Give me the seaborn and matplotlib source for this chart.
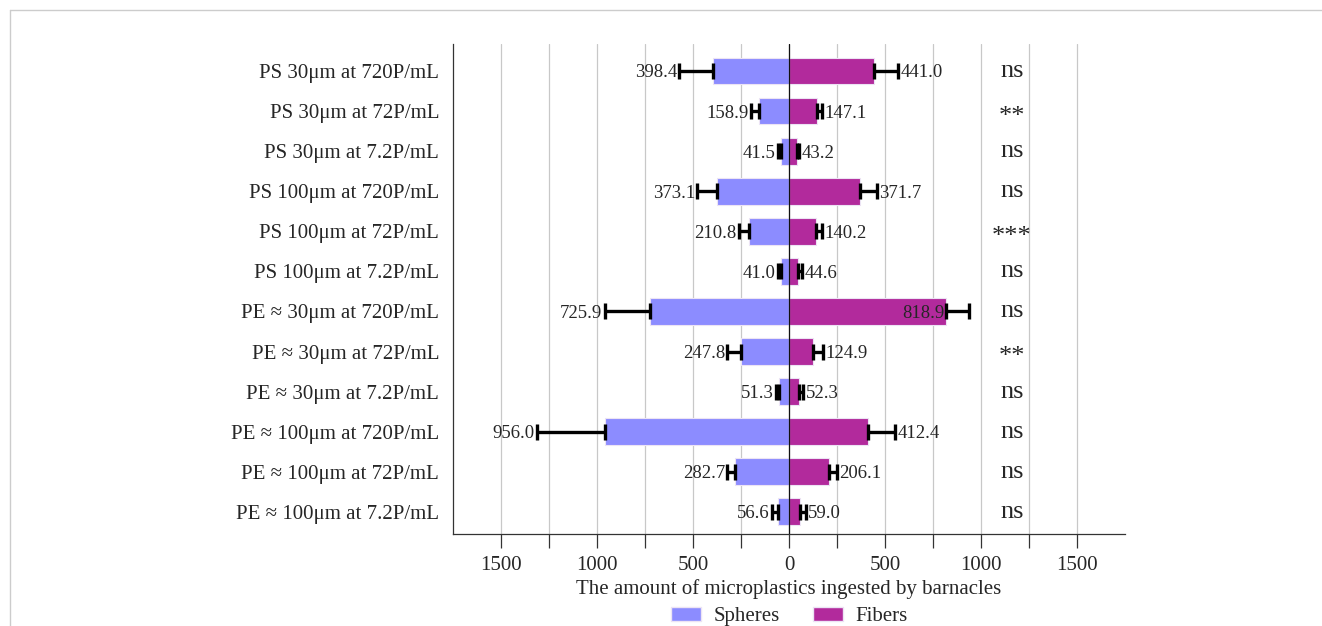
import numpy as np
import pandas as pd
import matplotlib
matplotlib.use("Agg")
import matplotlib.pyplot as plt
import seaborn as sns
from matplotlib.ticker import MultipleLocator, FixedLocator, FuncFormatter
from matplotlib.lines import Line2D
from matplotlib.patches import Patch

# data
categories = ["PS 30μm at 720P/mL", "PS 30μm at 72P/mL", "PS 30μm at 7.2P/mL",
              "PS 100μm at 720P/mL", "PS 100μm at 72P/mL", "PS 100μm at 7.2P/mL",
              "PE ≈ 30μm at 720P/mL", "PE ≈ 30μm at 72P/mL", "PE ≈ 30μm at 7.2P/mL",
              "PE ≈ 100μm at 720P/mL", "PE ≈ 100μm at 72P/mL", "PE ≈ 100μm at 7.2P/mL"]
spheres = [398.4, 158.9, 41.5, 373.1, 210.8, 41.0, 725.9, 247.8, 51.3, 956.0, 282.7, 56.6]
spheres_err = [174, 41, 17, 104, 52, 17, 235, 73, 14, 358, 38, 32]
fibers = [441.0, 147.1, 43.2, 371.7, 140.2, 44.6, 818.9, 124.9, 52.3, 412.4, 206.1, 59.0]
fibers_err = [129, 27, 8, 86, 30, 25, 121, 50, 22, 139, 45, 27]
signif = ["ns", "**", "ns", "ns", "***", "ns", "ns", "**", "ns", "ns", "ns", "ns"]

sph_color = "#8C8CFF"
fib_color = "#B22A9C"

df = pd.DataFrame({
    "cat": categories * 2,
    "value": [-v for v in spheres] + fibers,
    "type": ["Spheres"] * len(categories) + ["Fibers"] * len(categories),
})

sns.set_style("white")
plt.rcParams["font.family"] = ["Liberation Serif", "DejaVu Serif"]

fig = plt.figure(figsize=(13.22, 6.26), dpi=100)
ax = fig.add_axes([0.3427, 0.147, 0.5083, 0.7826])

sns.barplot(data=df, y="cat", x="value", hue="type", dodge=False, orient="h",
            palette={"Spheres": sph_color, "Fibers": fib_color}, saturation=1,
            width=0.67, edgecolor="#ece4f4", linewidth=0.8, legend=False, ax=ax, zorder=2)

ypos = np.arange(len(categories))
# one-sided error bars
ax.errorbar([-v for v in spheres], ypos, xerr=[spheres_err, [0] * len(ypos)],
            fmt="none", ecolor="black", elinewidth=2.4, capsize=6, capthick=2.4, zorder=3)
ax.errorbar(fibers, ypos, xerr=[[0] * len(ypos), fibers_err],
            fmt="none", ecolor="black", elinewidth=2.4, capsize=6, capthick=2.4, zorder=3)

# value labels
for i in range(len(categories)):
    ax.text(-(spheres[i] + spheres_err[i]) - 12, i + 0.05, f"{spheres[i]:.1f}",
            ha="right", va="center", fontsize=13.5, zorder=4)
    if fibers[i] > 700:
        ax.text(fibers[i] - 8, i + 0.05, f"{fibers[i]:.1f}",
                ha="right", va="center", fontsize=13.5, zorder=4)
    else:
        ax.text(fibers[i] + fibers_err[i] + 12, i + 0.05, f"{fibers[i]:.1f}",
                ha="left", va="center", fontsize=13.5, zorder=4)
    ax.text(1160, i + (0.14 if signif[i] != "ns" else 0.0), signif[i],
            ha="center", va="center", fontsize=19, zorder=4)

ax.axvline(0, color="#111111", lw=0.9, zorder=3)

ax.set_xlim(-1750, 1750)
ax.set_ylim(11.55, -0.67)
ax.xaxis.set_major_locator(MultipleLocator(500))
ax.xaxis.set_minor_locator(FixedLocator([-1250, -750, -250, 250, 750, 1250]))
ax.xaxis.set_major_formatter(FuncFormatter(lambda v, p: f"{abs(v):.0f}"))
ax.grid(True, axis="x", which="both", color="#c8c8c8", lw=0.9, zorder=0)
ax.set_axisbelow(True)
ax.tick_params(axis="x", which="both", direction="out", length=10, width=0.9,
               color="#333333", labelsize=15, pad=6, bottom=True)
ax.tick_params(axis="y", length=0, labelsize=15, pad=10)
for s in ["top", "right"]:
    ax.spines[s].set_visible(False)
for s in ["left", "bottom"]:
    ax.spines[s].set_color("#333333")
    ax.spines[s].set_linewidth(0.9)

ax.set_ylabel("")
ax.set_xlabel("The amount of microplastics ingested by barnacles", fontsize=15, labelpad=3)

handles = [Patch(facecolor=sph_color, edgecolor="#ece4f4", label="Spheres"),
           Patch(facecolor=fib_color, edgecolor="#ece4f4", label="Fibers")]
fig.legend(handles=handles, loc="lower center", bbox_to_anchor=(0.597, -0.03), ncol=2,
           frameon=False, fontsize=15, handlelength=1.45, handleheight=0.65,
           columnspacing=1.6, handletextpad=0.6)

# light frame lines (top and left)
fig.add_artist(Line2D([10 / 1322, 1], [1 - 10 / 626, 1 - 10 / 626], color="#cccccc", lw=1))
fig.add_artist(Line2D([10 / 1322, 10 / 1322], [0, 1 - 10 / 626], color="#cccccc", lw=1))

fig.savefig("out.png", dpi=100)
